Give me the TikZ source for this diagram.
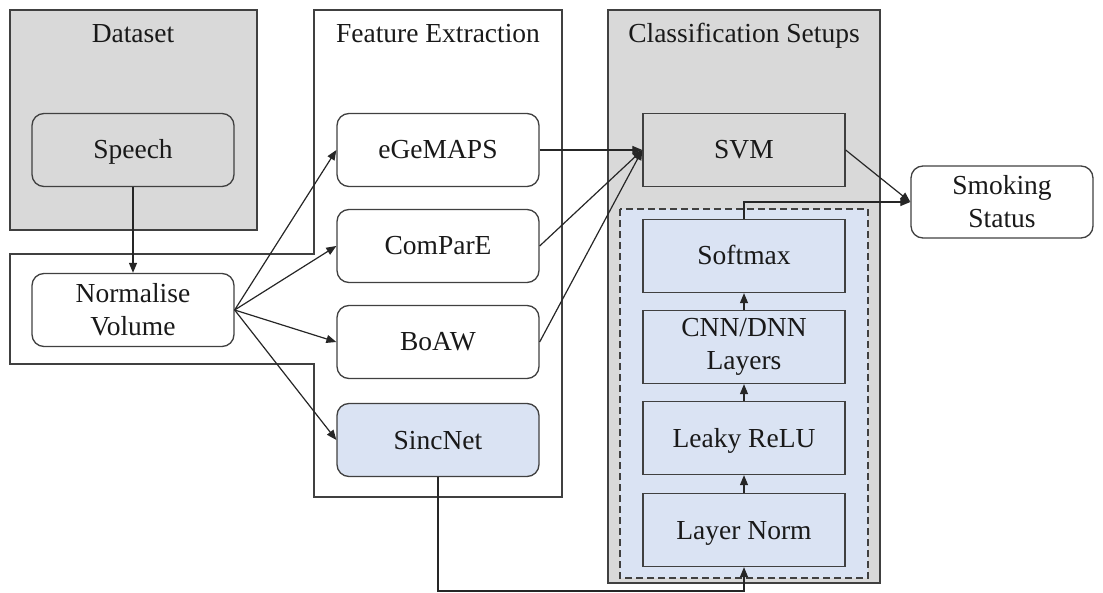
\documentclass[tikz,border=0pt]{standalone}
\usepackage{fontspec}
\setmainfont{Liberation Serif}
\usetikzlibrary{arrows.meta}
\definecolor{boxgray}{HTML}{D9D9D9}
\definecolor{paleblue}{HTML}{DAE3F3}
\definecolor{edgegray}{HTML}{404040}
\begin{document}
\begin{tikzpicture}[x=1pt,y=-1pt,
  every node/.style={font=\fontsize{27.5}{33}\selectfont,text=black!90,align=center,inner sep=2pt},
  oneline/.style={text height=18pt,text depth=0pt},
  title/.style={text height=19pt,text depth=6pt},
  rbox/.style={draw=edgegray,line width=1.3pt,rounded corners=12pt,minimum width=202pt,minimum height=73pt},
  sbox/.style={draw=edgegray,line width=1.3pt,minimum width=202pt,minimum height=73pt},
  link/.style={draw=black!85,line width=1.2pt,-{Triangle[length=10pt,width=8pt]}}]
\useasboundingbox (0,0) rectangle (1103,593);
% panels
\draw [edgegray,line width=1.3pt,fill=boxgray] (10,10) rectangle (257,230);
\draw [edgegray,line width=1.3pt] (314,10) -- (562,10) -- (562,497) -- (314,497) -- (314,364)
  -- (10,364) -- (10,254) -- (314,254) -- cycle;
\draw [edgegray,line width=1.3pt,fill=boxgray] (608,10) rectangle (880,583);
\draw [edgegray,line width=1.3pt,dash pattern=on 7pt off 4pt,fill=paleblue] (620,209) rectangle (868,578);
\node [title] (dstitle) at (133,36) {Dataset};
\node [title] (fetitle) at (438,36) {Feature Extraction};
\node [title] (cstitle) at (744,36) {Classification Setups};
% boxes
\node [rbox,oneline,fill=boxgray] (speech) at (133,150) {Speech};
\node [rbox] (norm) at (133,310) {Normalise\\Volume};
\node [rbox,oneline] (egemaps) at (438,150) {eGeMAPS};
\node [rbox,oneline] (compare) at (438,246) {ComParE};
\node [rbox,oneline] (boaw) at (438,342) {BoAW};
\node [rbox,oneline,fill=paleblue] (sinc) at (438,440) {SincNet};
\node [sbox,oneline,fill=boxgray] (svm) at (744,150) {SVM};
\node [sbox,oneline,fill=paleblue] (softmax) at (744,256) {Softmax};
\node [sbox,fill=paleblue] (cnn) at (744,347) {CNN/DNN\\Layers};
\node [sbox,oneline,fill=paleblue] (relu) at (744,438) {Leaky ReLU};
\node [sbox,oneline,fill=paleblue] (lnorm) at (744,530) {Layer Norm};
\node [rbox,minimum width=182pt,minimum height=72pt] (smoke) at (1002,202) {Smoking\\Status};
% arrows
\draw [link] (speech) -- (norm);
\foreach \f in {egemaps,compare,boaw,sinc}
  \draw [link] (norm.east) -- (\f.west);
\foreach \f in {egemaps,compare,boaw}
  \draw [link] (\f.east) -- (svm.west);
\draw [link] (svm.east) -- (smoke.west);
\draw [link] (softmax.north) |- (smoke.west);
\draw [link] (lnorm) -- (relu);
\draw [link] (relu) -- (cnn);
\draw [link] (cnn) -- (softmax);
\coordinate (floor) at (600,591);
\draw [link] (sinc.south) |- (floor) -| (lnorm.south);
\end{tikzpicture}
\end{document}
